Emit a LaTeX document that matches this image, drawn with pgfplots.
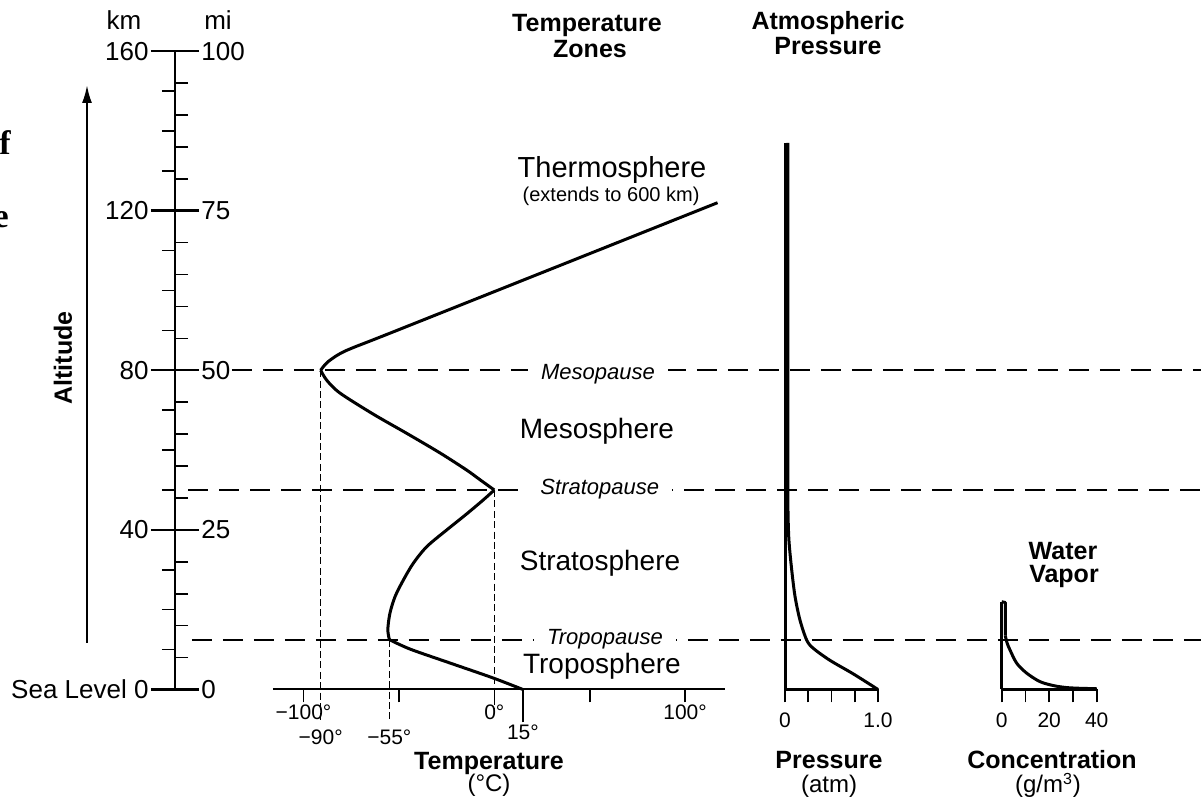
\documentclass[border=0pt]{standalone}
\usepackage{fontspec}
\setmainfont{Liberation Sans}
\newfontfamily\serifbf{Liberation Serif}
\usepackage{pgfplots}
\pgfplotsset{compat=1.18}
\usetikzlibrary{arrows.meta}

\newcommand{\fs}[1]{\fontsize{#1}{#1}\selectfont}

% picture units: 1 px of the reference = 0.5pt
\pgfplotsset{
  panel/.style={scale only axis, anchor=origin, clip=false,
    y=1.995pt, ymin=0, ymax=125,
    axis x line=bottom, axis y line=none,
    axis line style={-, line width=1pt},
    xtick align=outside, major tick length=6.5pt,
    tick style={black, line width=0.8pt},
    xticklabel style={font=\fs{10.5}, inner sep=1pt},
    /pgf/number format/assume math mode=true},
  curve/.style={black, line width=1.5pt, line join=round, mark=none},
}
\tikzset{
  lvl/.style={line width=0.9pt, dash pattern=on 10pt off 5.5pt},
  drop/.style={line width=0.6pt, dash pattern=on 3.5pt off 1.7pt},
  pause/.style={fill=white, inner xsep=6.5pt, inner ysep=1pt, anchor=base, font=\itshape\fs{11}},
  zone/.style={anchor=base, inner sep=0pt, font=\fs{14}},
}

\begin{document}
\begin{tikzpicture}[x=0.5pt, y=0.5pt]
\path[use as bounding box] (0,0) rectangle (1201,803);

% cut-off letters at the left edge of the scan
\node[anchor=base east, inner sep=0pt, font=\serifbf\bfseries\fs{17}] at (11,648) {f};
\node[anchor=base east, inner sep=0pt, font=\serifbf\bfseries\fs{17}] at (9,575) {e};

% altitude arrow
\draw[line width=1.1pt, -{Latex[length=9pt,width=5pt]}] (87,160) -- (87,718);
\node[rotate=90, font=\bfseries\fs{12.5}] at (63,445) {Altitude};
\node[anchor=base, font=\fs{13}] at (124,773) {km};
\node[anchor=base, font=\fs{13}] at (218,773) {mi};

% km side of the scale
\begin{axis}[scale only axis, anchor=origin, at={(87.5pt,56.75pt)}, clip=false,
  x=0.5pt, xmin=0, xmax=1, y=1.995pt, ymin=0, ymax=160,
  axis x line=none, axis y line=left, axis line style={-, line width=1.4pt},
  ytick={0,40,80,120,160}, yticklabels={Sea Level 0,40,80,120,160},
  minor ytick={10,20,30,50,60,70,90,100,110,130,140,150},
  tick align=outside, major tick length=12pt, minor tick length=6.5pt,
  tick style={black}, major tick style={line width=1.2pt}, minor tick style={line width=0.8pt},
  yticklabel style={font=\fs{13}, inner sep=1pt}]
\end{axis}

% mi side of the scale (positions in km, 1 mi = 1.6 km)
\begin{axis}[scale only axis, anchor=origin, at={(87.5pt,56.75pt)}, clip=false,
  x=0.5pt, xmin=-1, xmax=0, y=1.995pt, ymin=0, ymax=160,
  axis x line=none, axis y line=right, axis line style={-, line width=1.4pt},
  ytick={0,40,80,120,160}, yticklabels={0,25,50,75,100},
  minor ytick={8,16,24,32,48,56,64,72,88,96,104,112,128,136,144,152},
  tick align=outside, major tick length=12pt, minor tick length=6.5pt,
  tick style={black}, major tick style={line width=1.2pt}, minor tick style={line width=0.8pt},
  yticklabel style={font=\fs{13}, inner sep=1pt}]
\end{axis}

% temperature panel
\begin{axis}[panel, at={(247.15pt,56.75pt)}, x=0.954pt, xmin=-116, xmax=121,
  xtick={-100,-50,0,50,100}, xticklabels={−100°,,0°,,100°},
  extra x ticks={15}, extra x tick labels={15°},
  extra x tick style={major tick length=16.5pt}]
  \draw[lvl] (axis cs:-137.5,80) -- (axis cs:371,80);
  \draw[lvl] (axis cs:-160.5,50) -- (axis cs:371,50);
  \draw[lvl] (axis cs:-158.5,12.5) -- (axis cs:371,12.5);
  \draw[drop] (axis cs:-91,80) -- ([yshift=-16.5pt]axis cs:-91,0);
  \draw[drop] (axis cs:-55,12.5) -- ([yshift=-16.5pt]axis cs:-55,0);
  \draw[drop] (axis cs:0,50) -- ([yshift=-10.5pt]axis cs:0,0);

  % troposphere
  \addplot[curve, smooth] coordinates {(15,0) (-0.7,2.9) (-23,6.6) (-44,10.1) (-55,12.5)};
  % stratosphere
  \addplot[curve, smooth] coordinates {(-55,12.5) (-55.8,15) (-54.7,19.1) (-52,23.3)
    (-47.7,27.4) (-42.5,31.6) (-35.4,35.8) (-24.9,40) (-14.5,44) (-5.8,47.5) (0,50)};
  % mesosphere
  \addplot[curve, smooth] coordinates {(0,50) (-7,52.4) (-14.5,55) (-28.5,59.3) (-45.9,64.2)
    (-63.4,69) (-80.9,74.3) (-87.8,77.5) (-91,80)};
  % thermosphere
  \addplot[curve, smooth] coordinates {(-91,80) (-87,82.2) (-77.4,85) (-51,90) (117,122)};

  \node[anchor=north, inner sep=1pt, font=\fs{10.5}] at ([yshift=-19pt]axis cs:-91,0) {−90°};
  \node[anchor=north, inner sep=1pt, font=\fs{10.5}] at ([yshift=-19pt]axis cs:-55,0) {−55°};

  \node[pause] at ([yshift=-4.5pt]axis cs:54.3,80) {Mesopause};
  \node[pause] at ([yshift=-2.5pt]axis cs:55.3,50) {Stratopause};
  \node[pause] at ([yshift=-2.5pt]axis cs:58,12.5) {Tropopause};

  \node[zone, font=\fs{14.5}] at (axis cs:61.7,128.4) {Thermosphere};
  \node[zone, font=\fs{10}] at (axis cs:61.2,122.2) {(extends to 600 km)};
  \node[zone] at (axis cs:53.8,63) {Mesosphere};
  \node[zone] at (axis cs:55.4,29.7) {Stratosphere};
  \node[zone] at (axis cs:56.4,3.9) {Troposphere};
\end{axis}

% pressure panel
\begin{axis}[panel, at={(392.5pt,56.75pt)}, x=46.5pt, xmin=0, xmax=1,
  axis line style={-, line width=1.5pt},
  xtick={0,0.25,0.5,0.75,1}, xticklabels={0,,,,1.0},
  xticklabel style={yshift=-4pt}]
  \draw[line width=1.5pt] (axis cs:0,0) -- (axis cs:0,137);
  \addplot[curve, smooth] coordinates {(1,0) (0.735,3.9) (0.484,7.3) (0.305,10.3) (0.233,12.4)
    (0.161,17.4) (0.108,23.3) (0.072,30) (0.042,37.5) (0.032,45) (0.03,55) (0.03,137)};
\end{axis}

% water vapour panel
\begin{axis}[panel, at={(500.85pt,56.75pt)}, x=1.1875pt, xmin=0, xmax=40,
  axis line style={-, line width=1.5pt},
  xtick={0,10,20,30,40}, xticklabels={0,,20,,40},
  xticklabel style={yshift=-4pt}]
  \draw[line width=1.5pt] (axis cs:0,0) -- (axis cs:0,22);
  \addplot[curve] coordinates {(0,22) (1.5,21.8) (1.5,13.5)};
  \addplot[curve, smooth] coordinates {(1.5,13.5) (2.3,11.6) (3.5,9.9) (6.3,6.6) (10.5,4.1)
    (16,2) (21.6,1) (27,0.5) (33,0.3) (40,0.2)};
\end{axis}

% titles
\begin{scope}[every node/.style={anchor=base, inner sep=0pt, font=\bfseries\fs{12.5}}]
  \node at (587,771) {Temperature};
  \node at (590,745) {Zones};
  \node at (828,773) {Atmospheric};
  \node at (828,748) {Pressure};
  \node at (1063,243) {Water};
  \node at (1064,220) {Vapor};
  \node at (489,33) {Temperature};
  \node at (829,34) {Pressure};
  \node at (1052,34) {Concentration};
\end{scope}
\begin{scope}[every node/.style={anchor=base, inner sep=0pt, font=\fs{12}}]
  \node at (489,11) {(°C)};
  \node at (829,10) {(atm)};
  \node at (1048,10) {(g/m\textsuperscript{3})};
\end{scope}
\end{tikzpicture}
\end{document}
